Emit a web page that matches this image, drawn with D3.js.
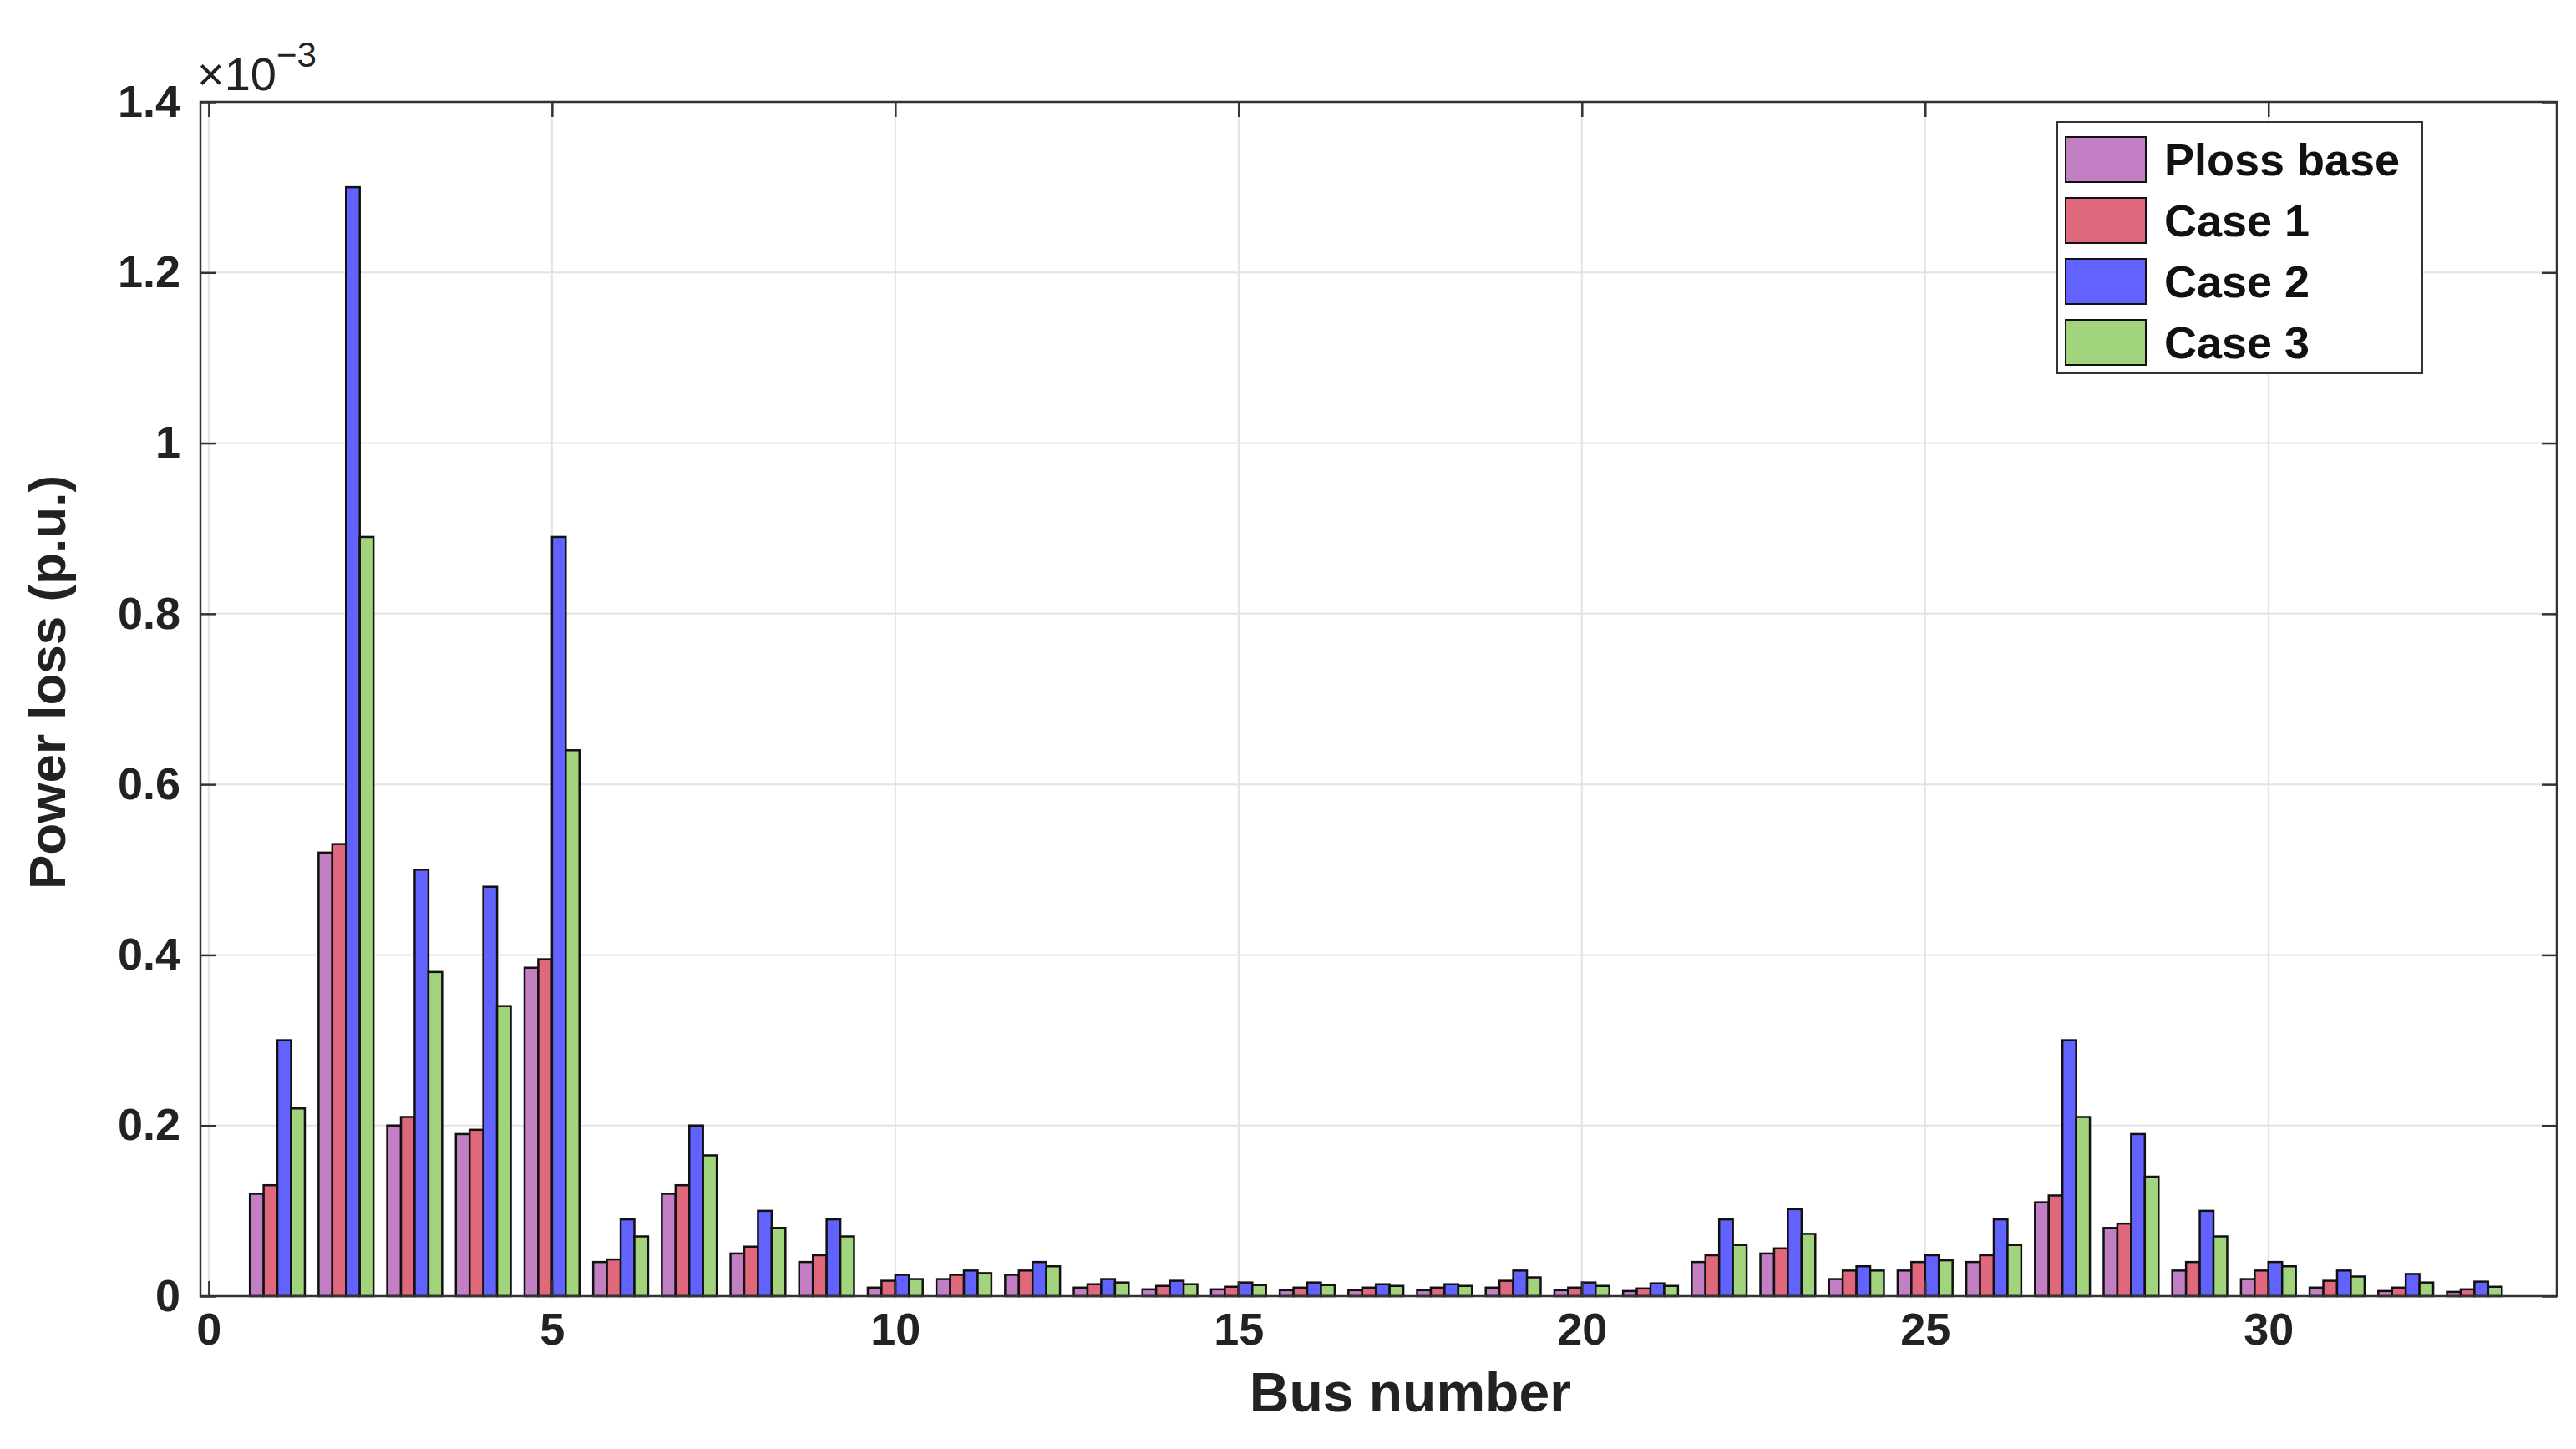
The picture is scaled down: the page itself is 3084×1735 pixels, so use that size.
<!DOCTYPE html>
<html><head><meta charset="utf-8">
<script src="https://cdn.jsdelivr.net/npm/d3@7"></script>
<style>body{margin:0;background:#fff}text{font-family:"Liberation Sans",Arial,sans-serif;font-weight:bold}</style>
</head><body><div id="chart"></div>
<script>
// data (units of 1e-3 p.u.)
var buses = d3.range(1, 34);
var seriesNames = ["Ploss base", "Case 1", "Case 2", "Case 3"];
var seriesColors = ["#c27fc4", "#e0687c", "#6262ff", "#a2d47e"];
var plossBase = [0.12,0.52,0.20,0.19,0.385,0.04,0.12,0.05,0.04,0.01,0.02,0.025,0.01,0.008,0.008,0.007,0.007,0.007,0.01,0.007,0.006,0.04,0.05,0.02,0.03,0.04,0.11,0.08,0.03,0.02,0.01,0.006,0.005];
var case1 = [0.13,0.53,0.21,0.195,0.395,0.043,0.13,0.058,0.048,0.018,0.025,0.03,0.014,0.012,0.011,0.01,0.01,0.01,0.018,0.01,0.009,0.048,0.056,0.03,0.04,0.048,0.118,0.085,0.04,0.03,0.018,0.01,0.008];
var case2 = [0.30,1.30,0.50,0.48,0.89,0.09,0.20,0.10,0.09,0.025,0.03,0.04,0.02,0.018,0.016,0.016,0.014,0.014,0.03,0.016,0.015,0.09,0.102,0.035,0.048,0.09,0.30,0.19,0.10,0.04,0.03,0.026,0.017];
var case3 = [0.22,0.89,0.38,0.34,0.64,0.07,0.165,0.08,0.07,0.02,0.027,0.035,0.016,0.014,0.013,0.013,0.012,0.012,0.022,0.012,0.012,0.06,0.073,0.03,0.042,0.06,0.21,0.14,0.07,0.035,0.023,0.016,0.011];
var allSeries = [plossBase, case1, case2, case3];
var xTicks = [0, 5, 10, 15, 20, 25, 30];
var yTicks = [0, 0.2, 0.4, 0.6, 0.8, 1, 1.2, 1.4];

var svgWidth = 3084, svgHeight = 1735;
var margin = {top: 122, right: 23, bottom: 183, left: 240};
var width = svgWidth - margin.left - margin.right;
var height = svgHeight - margin.top - margin.bottom;

var svg = d3.select("#chart").append("svg")
  .attr("width", svgWidth).attr("height", svgHeight);
var g = svg.append("g").attr("transform", `translate(${margin.left},${margin.top})`);

var x = d3.scaleLinear().domain([-0.12, 34.2]).range([0, width]);
var y = d3.scaleLinear().domain([0, 1.4]).range([height, 0]);

// grid
g.selectAll(".gx").data(xTicks).enter().append("line")
  .attr("x1", d => x(d)).attr("x2", d => x(d)).attr("y1", 0).attr("y2", height)
  .attr("stroke", "#e3e3e3").attr("stroke-width", 2);
g.selectAll(".gy").data(yTicks).enter().append("line")
  .attr("x1", 0).attr("x2", width).attr("y1", d => y(d)).attr("y2", d => y(d))
  .attr("stroke", "#e3e3e3").attr("stroke-width", 2);

// bars
var barW = 0.2;
allSeries.forEach(function(vals, si) {
  g.selectAll(".b" + si).data(vals).enter().append("rect")
    .attr("x", (d, i) => x(buses[i] - 0.4 + si * barW))
    .attr("width", x(barW) - x(0))
    .attr("y", d => y(d))
    .attr("height", d => height - y(d))
    .attr("fill", seriesColors[si])
    .attr("stroke", "#111").attr("stroke-width", 2.5);
});

// axes (ticks inside, box)
var tickLen = 18;
g.append("g").attr("transform", `translate(0,${height})`)
  .call(d3.axisBottom(x).tickValues(xTicks).tickSizeInner(-tickLen).tickSizeOuter(0).tickPadding(20))
  .call(a => a.select(".domain").remove());
g.append("g")
  .call(d3.axisTop(x).tickValues(xTicks).tickSizeInner(-tickLen).tickSizeOuter(0).tickFormat(""))
  .call(a => a.select(".domain").remove());
g.append("g")
  .call(d3.axisLeft(y).tickValues(yTicks).tickSizeInner(-tickLen).tickSizeOuter(0).tickPadding(24).tickFormat(d3.format("~g")))
  .call(a => a.select(".domain").remove());
g.append("g").attr("transform", `translate(${width},0)`)
  .call(d3.axisRight(y).tickValues(yTicks).tickSizeInner(-tickLen).tickSizeOuter(0).tickFormat(""))
  .call(a => a.select(".domain").remove());
g.selectAll(".tick line").attr("stroke", "#333").attr("stroke-width", 2.5);
g.selectAll(".tick text").attr("font-size", 54).attr("fill", "#222")
  .style("font-family", "Liberation Sans, Arial, sans-serif").style("font-weight", "bold");
g.append("rect").attr("width", width).attr("height", height)
  .attr("fill", "none").attr("stroke", "#333").attr("stroke-width", 2.5);

// exponent label
var ex = g.append("text").attr("x", -4).attr("y", -14).attr("font-size", 56).attr("fill", "#222")
  .style("font-weight", "normal");
ex.append("tspan").text("\u00d710");
ex.append("tspan").attr("dy", -28).attr("font-size", 42).text("\u22123");

// axis titles
g.append("text").attr("x", x(17.5)).attr("y", height + 138).attr("text-anchor", "middle")
  .attr("font-size", 66).attr("fill", "#222").text("Bus number");
g.append("text").attr("transform", `translate(${-162},${height / 2 - 20}) rotate(-90)`)
  .attr("text-anchor", "middle").attr("font-size", 62).attr("fill", "#222").text("Power loss (p.u.)");

// legend
var lg = svg.append("g").attr("transform", "translate(2463,146)");
lg.append("rect").attr("width", 437).attr("height", 301).attr("fill", "#fff")
  .attr("stroke", "#333").attr("stroke-width", 2);
seriesNames.forEach(function(n, i) {
  var yy = 18 + i * 73;
  lg.append("rect").attr("x", 10).attr("y", yy).attr("width", 96).attr("height", 54)
    .attr("fill", seriesColors[i]).attr("stroke", "#111").attr("stroke-width", 2);
  lg.append("text").attr("x", 128).attr("y", yy + 46).attr("font-size", 54).attr("fill", "#111").text(n);
});
</script></body></html>
